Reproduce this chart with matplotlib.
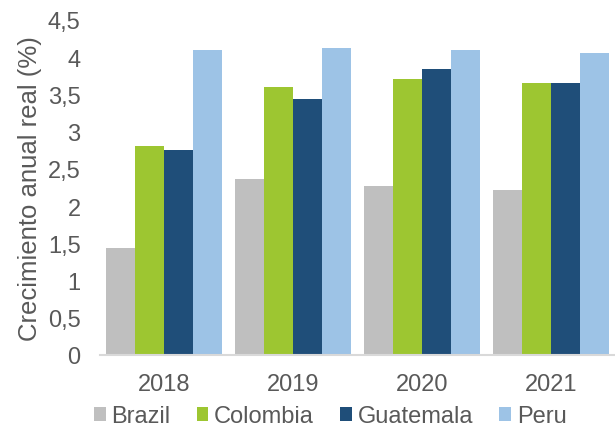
import matplotlib
matplotlib.use("Agg")
import matplotlib.pyplot as plt
import numpy as np

plt.rcParams['font.family'] = ['Liberation Sans', 'DejaVu Sans']

years = ['2018', '2019', '2020', '2021']
brazil = [1.44, 2.37, 2.27, 2.22]
colombia = [2.81, 3.60, 3.71, 3.65]
guatemala = [2.76, 3.44, 3.84, 3.65]
peru = [4.10, 4.12, 4.10, 4.06]

series = [('Brazil', brazil, '#BFBFBF'),
          ('Colombia', colombia, '#9DC631'),
          ('Guatemala', guatemala, '#1F4E79'),
          ('Peru', peru, '#9DC3E6')]

fig = plt.figure(figsize=(6.15, 4.31), dpi=100)
ax = fig.add_axes([100 / 615, 1 - 356 / 431, 515 / 615, 335 / 431])

x = np.arange(len(years))
w = 0.225
for i, (name, vals, col) in enumerate(series):
    ax.bar(x + (i - 1.5) * w, vals, w, color=col, label=name)

ax.set_xlim(-0.5, 3.5)
ax.set_ylim(0, 4.5)
ax.set_yticks(np.arange(0, 4.51, 0.5))
ax.set_yticklabels([f'{v:g}'.replace('.', ',') for v in np.arange(0, 4.51, 0.5)])
ax.set_xticks(x)
ax.set_xticklabels(years)
ax.tick_params(axis='both', length=0, labelsize=17, colors='#595959')
ax.tick_params(axis='x', pad=13)
ax.tick_params(axis='y', pad=14)
for s in ['top', 'right', 'left']:
    ax.spines[s].set_visible(False)
ax.spines['bottom'].set_color('#D9D9D9')
ax.spines['bottom'].set_linewidth(1.5)

ax.set_ylabel('Crecimiento anual real (%)', fontsize=18.5, color='#595959', labelpad=0)
ax.yaxis.set_label_coords(-0.113, 0.5)

ax.legend(loc='center', bbox_to_anchor=(0.447, -0.183), ncol=4, frameon=False,
          fontsize=17, labelcolor='#595959', handlelength=0.5, handleheight=0.5,
          handletextpad=0.25, columnspacing=1.1, borderaxespad=0, borderpad=0)

fig.savefig('out.png', dpi=100)
